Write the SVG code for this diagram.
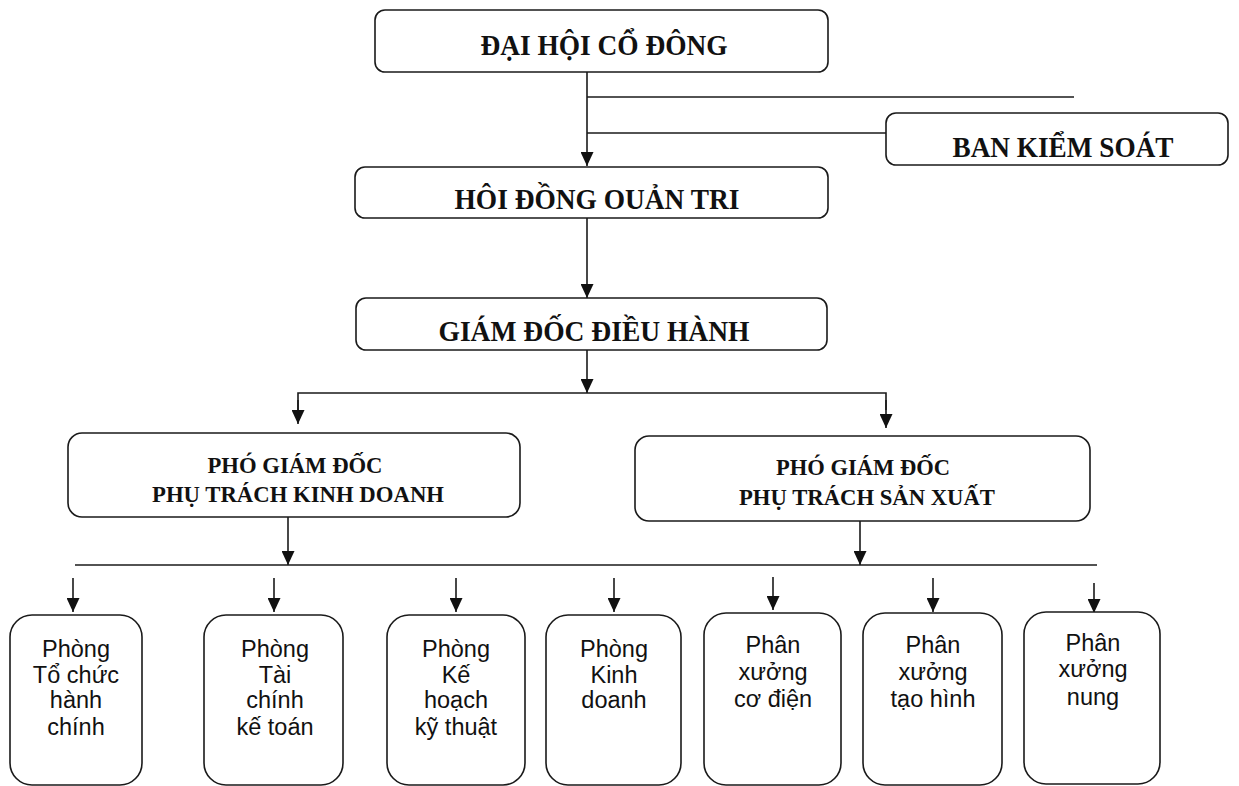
<svg xmlns="http://www.w3.org/2000/svg" width="1239" height="786" viewBox="0 0 1239 786">
<style>
.box{fill:#fff;stroke:#1a1a1a;stroke-width:1.6}
.ln{fill:none;stroke:#1a1a1a;stroke-width:1.6}
.t1{font-family:"Liberation Serif","Times New Roman",serif;font-weight:bold;font-size:30px;fill:#111;text-anchor:middle}
.t2{font-family:"Liberation Serif","Times New Roman",serif;font-weight:bold;font-size:23px;fill:#111;text-anchor:middle}
.t3{font-family:"Liberation Sans",Arial,sans-serif;font-size:23.5px;fill:#111;text-anchor:middle}
</style>
<defs>
<marker id="ah" markerUnits="userSpaceOnUse" markerWidth="14" markerHeight="13" refX="14" refY="6.5" orient="auto">
<path d="M0,0 L14,6.5 L0,13 z" fill="#111"/>
</marker>
</defs>
<rect width="1239" height="786" fill="#fff"/>
<g id="connectors">
<line class="ln" x1="587" y1="72" x2="587" y2="166" marker-end="url(#ah)"/>
<line class="ln" x1="587" y1="97" x2="1074" y2="97"/>
<line class="ln" x1="587" y1="133" x2="886" y2="133"/>
<line class="ln" x1="587" y1="218" x2="587" y2="298" marker-end="url(#ah)"/>
<line class="ln" x1="587" y1="350" x2="587" y2="393" marker-end="url(#ah)"/>
<polyline class="ln" points="298,410 298,393 886,393 886,410"/>
<line class="ln" x1="298" y1="400" x2="298" y2="424" marker-end="url(#ah)"/>
<line class="ln" x1="886" y1="400" x2="886" y2="428" marker-end="url(#ah)"/>
<line class="ln" x1="288" y1="517" x2="288" y2="565" marker-end="url(#ah)"/>
<line class="ln" x1="860" y1="521" x2="860" y2="565" marker-end="url(#ah)"/>
<line class="ln" x1="75" y1="565" x2="1097" y2="565"/>
<line class="ln" x1="73" y1="578" x2="73" y2="612" marker-end="url(#ah)"/>
<line class="ln" x1="274" y1="578" x2="274" y2="612" marker-end="url(#ah)"/>
<line class="ln" x1="456" y1="578" x2="456" y2="612" marker-end="url(#ah)"/>
<line class="ln" x1="614" y1="578" x2="614" y2="612" marker-end="url(#ah)"/>
<line class="ln" x1="773" y1="577" x2="773" y2="610" marker-end="url(#ah)"/>
<line class="ln" x1="933" y1="578" x2="933" y2="612" marker-end="url(#ah)"/>
<line class="ln" x1="1094" y1="583" x2="1094" y2="613" marker-end="url(#ah)"/>
</g>
<g id="dhcd">
<rect class="box" x="375" y="10" width="453" height="62" rx="10"/>
<text class="t1" x="604" y="55" textLength="247" lengthAdjust="spacingAndGlyphs">ĐẠI HỘI CỔ ĐÔNG</text>
</g>
<g id="bks">
<rect class="box" x="886" y="113" width="342" height="52" rx="10"/>
<text class="t1" x="1063" y="157" textLength="221" lengthAdjust="spacingAndGlyphs">BAN KIỂM SOÁT</text>
</g>
<g id="hdqt">
<rect class="box" x="355" y="167" width="473" height="51" rx="10"/>
<text class="t1" x="597" y="209" textLength="285" lengthAdjust="spacingAndGlyphs">HÔI ĐỒNG OUẢN TRI</text>
</g>
<g id="gddh">
<rect class="box" x="356" y="298" width="471" height="52" rx="10"/>
<text class="t1" x="594" y="341" textLength="311" lengthAdjust="spacingAndGlyphs">GIÁM ĐỐC ĐIỀU HÀNH</text>
</g>
<g id="pgd-kd">
<rect class="box" x="68" y="433" width="452" height="84" rx="14"/>
<text class="t2" x="295" y="473" textLength="175" lengthAdjust="spacingAndGlyphs">PHÓ GIÁM ĐỐC</text>
<text class="t2" x="298" y="502" textLength="292" lengthAdjust="spacingAndGlyphs">PHỤ TRÁCH KINH DOANH</text>
</g>
<g id="pgd-sx">
<rect class="box" x="635" y="436" width="455" height="85" rx="14"/>
<text class="t2" x="863" y="475" textLength="174" lengthAdjust="spacingAndGlyphs">PHÓ GIÁM ĐỐC</text>
<text class="t2" x="867" y="505" textLength="256" lengthAdjust="spacingAndGlyphs">PHỤ TRÁCH SẢN XUẤT</text>
</g>
<g id="p-tchc">
<rect class="box" x="10" y="615" width="132" height="170" rx="22"/>
<text class="t3" x="76" y="657">Phòng</text>
<text class="t3" x="76" y="683">Tổ chức</text>
<text class="t3" x="76" y="708">hành</text>
<text class="t3" x="76" y="735">chính</text>
</g>
<g id="p-tckt">
<rect class="box" x="204" y="615" width="139" height="170" rx="22"/>
<text class="t3" x="275" y="657">Phòng</text>
<text class="t3" x="275" y="683">Tài</text>
<text class="t3" x="275" y="708">chính</text>
<text class="t3" x="275" y="735">kế toán</text>
</g>
<g id="p-khkt">
<rect class="box" x="387" y="615" width="138" height="170" rx="22"/>
<text class="t3" x="456" y="657">Phòng</text>
<text class="t3" x="456" y="683">Kế</text>
<text class="t3" x="456" y="708">hoạch</text>
<text class="t3" x="456" y="735">kỹ thuật</text>
</g>
<g id="p-kd">
<rect class="box" x="546" y="615" width="135" height="170" rx="22"/>
<text class="t3" x="614" y="657">Phòng</text>
<text class="t3" x="614" y="683">Kinh</text>
<text class="t3" x="614" y="708">doanh</text>
</g>
<g id="px-cd">
<rect class="box" x="704" y="613" width="137" height="172" rx="22"/>
<text class="t3" x="773" y="653">Phân</text>
<text class="t3" x="773" y="680">xưởng</text>
<text class="t3" x="773" y="707">cơ điện</text>
</g>
<g id="px-th">
<rect class="box" x="863" y="613" width="139" height="172" rx="22"/>
<text class="t3" x="933" y="653">Phân</text>
<text class="t3" x="933" y="680">xưởng</text>
<text class="t3" x="933" y="707">tạo hình</text>
</g>
<g id="px-nung">
<rect class="box" x="1024" y="612" width="136" height="172" rx="22"/>
<text class="t3" x="1093" y="651">Phân</text>
<text class="t3" x="1093" y="677">xưởng</text>
<text class="t3" x="1093" y="705">nung</text>
</g>
</svg>
